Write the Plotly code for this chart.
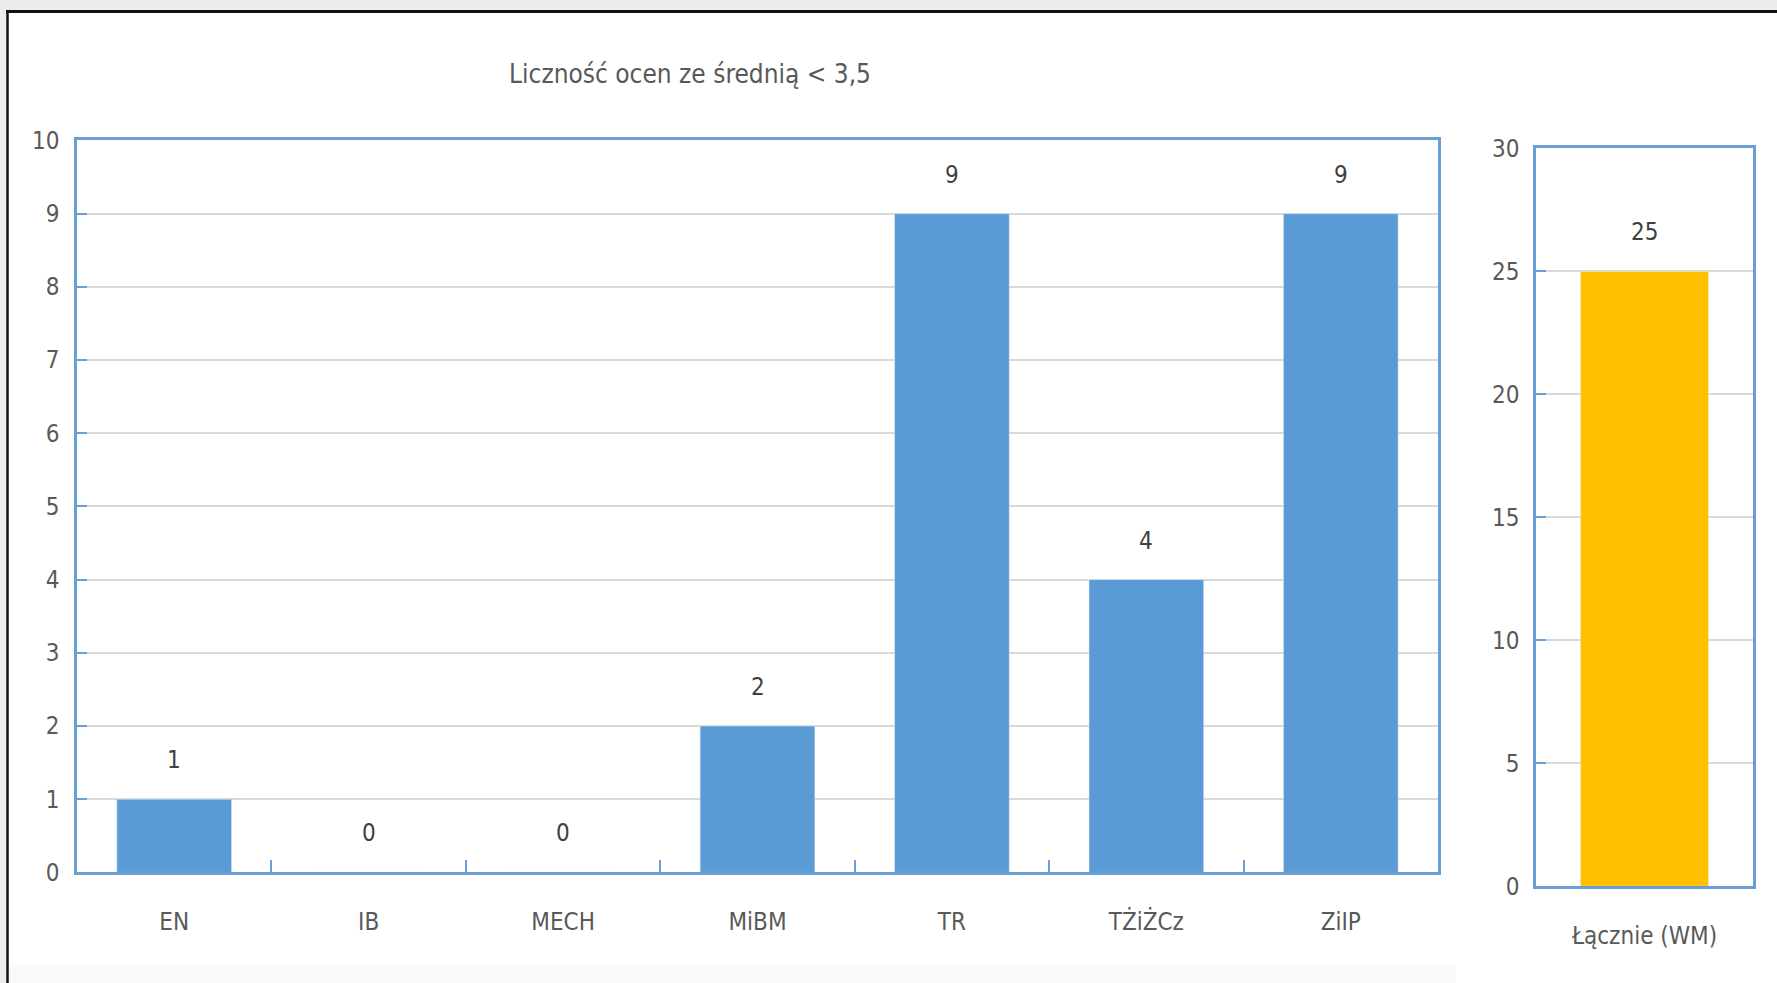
import plotly.graph_objects as go

categories = ["EN", "IB", "MECH", "MiBM", "TR", "TŻiŻCz", "ZiIP"]
counts = [1, 0, 0, 2, 9, 4, 9]
total_category = ["Łącznie (WM)"]
total_value = [25]
left_ticks = list(range(0, 11))
right_ticks = [0, 5, 10, 15, 20, 25, 30]
title_text = "Liczność ocen ze średnią < 3,5"

W, H = 1777, 983
FONT = "DejaVu Sans Condensed, DejaVu Sans, sans-serif"
BLUE = "#5B9BD5"
AXIS = "#6A9FD6"
GRID = "#D9D9D9"
TXT = "#595959"
LBL = "#404040"
TICK_SIZE = 24

# paper-fraction helpers (observed render: paper spans ~12..971 px vertically)
TOP_OFF, PAPER_H = 12.0, 959.0

def px(x):
    return x / W

def py(y):
    return 1 - (y - TOP_OFF) / PAPER_H

fig = go.Figure()
fig.add_trace(go.Bar(x=categories, y=counts, marker_color=BLUE, xaxis="x", yaxis="y",
                     hoverinfo="x+y"))
fig.add_trace(go.Bar(x=total_category, y=total_value, marker_color="#FFC000", xaxis="x2", yaxis="y2",
                     hoverinfo="x+y"))

annotations = []
for c, v in zip(categories, counts):
    annotations.append(dict(x=c, y=v, xref="x", yref="y", text=str(v), showarrow=False,
                            yanchor="middle", yshift=39, font=dict(family=FONT, size=TICK_SIZE, color=LBL)))
for c, v in zip(total_category, total_value):
    annotations.append(dict(x=c, y=v, xref="x2", yref="y2", text=str(v), showarrow=False,
                            yanchor="middle", yshift=39, font=dict(family=FONT, size=TICK_SIZE, color=LBL)))
annotations.append(dict(x=px(690), y=py(72), xref="paper", yref="paper", text=title_text,
                        showarrow=False, xanchor="center", yanchor="middle",
                        font=dict(family=FONT, size=26, color=TXT)))

axis_common = dict(showline=True, linecolor=AXIS, linewidth=2.5, mirror=True,
                   tickfont=dict(family=FONT, size=TICK_SIZE, color=TXT), zeroline=False)

shapes = [
    dict(type="rect", xref="paper", yref="paper", x0=0, x1=1, y0=py(8), y1=py(-20),
         fillcolor="#EBEBEB", line_width=0, layer="below"),
    dict(type="rect", xref="paper", yref="paper", x0=0, x1=px(6), y0=py(1000), y1=py(-20),
         fillcolor="#EBEBEB", line_width=0, layer="below"),
    dict(type="rect", xref="paper", yref="paper", x0=px(9), x1=px(1456), y0=py(1000), y1=py(967),
         fillcolor="#F9F9F9", line_width=0, layer="below"),
    dict(type="line", xref="paper", yref="paper", x0=px(7.5), x1=px(7.5), y0=py(1000), y1=py(8),
         line=dict(color="#111111", width=2.5)),
    dict(type="line", xref="paper", yref="paper", x0=px(6), x1=1, y0=py(9.5), y1=py(9.5),
         line=dict(color="#111111", width=3)),
]

fig.update_layout(
    width=W, height=H, margin=dict(l=0, r=0, t=0, b=0),
    paper_bgcolor="white", plot_bgcolor="white",
    showlegend=False, bargap=0.41,
    annotations=annotations, shapes=shapes,
    xaxis=dict(domain=[px(77), px(1438)], anchor="y", ticks="inside", tickson="boundaries",
               ticklen=13, tickwidth=2, tickcolor=AXIS, ticklabelstandoff=26, showgrid=False,
               **axis_common),
    yaxis=dict(domain=[py(874), py(139)], anchor="x", range=[0, 10], tickvals=left_ticks,
               ticks="inside", ticklen=10, tickwidth=2, tickcolor=AXIS, ticklabelstandoff=10,
               showgrid=True, gridcolor=GRID, gridwidth=2, **axis_common),
    xaxis2=dict(domain=[px(1536), px(1753)], anchor="y2", ticks="", ticklabelstandoff=26,
                showgrid=False, **axis_common),
    yaxis2=dict(domain=[py(888), py(147)], anchor="x2", range=[0, 30], tickvals=right_ticks,
                ticks="inside", ticklen=10, tickwidth=2, tickcolor=AXIS, ticklabelstandoff=9,
                showgrid=True, gridcolor=GRID, gridwidth=2, **axis_common),
)

fig.write_html("out.html", config={"displayModeBar": False},
               post_script="document.body.style.margin='0';document.body.style.overflow='hidden';")
